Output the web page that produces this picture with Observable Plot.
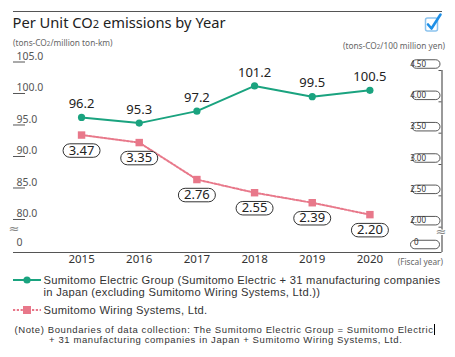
<!DOCTYPE html>
<html>
<head>
<meta charset="utf-8">
<script src="https://cdn.jsdelivr.net/npm/d3@7"></script>
<script src="https://cdn.jsdelivr.net/npm/@observablehq/plot@0.6"></script>
<style>
  html, body { margin: 0; padding: 0; background: #fff; }
  body { width: 455px; height: 357px; overflow: hidden; font-family: "Noto Sans", "DejaVu Sans", sans-serif; color: #333; }
  #wrap { position: relative; width: 455px; height: 357px; }
  .abs { position: absolute; white-space: nowrap; }
  #chart { position: absolute; left: 0; top: 0; }
  #chart svg { overflow: visible; }
  .sub2 { font-size: 75%; }
  .lib { font-family: "Liberation Sans", Arial, sans-serif; }
</style>
</head>
<body>
<div id="wrap">
  <div id="chart"></div>
  <div class="abs" style="left:13px; top:10.5px; width:429px; height:0; border-top:1.2px solid #555;"></div>
  <div class="abs" style="left:12.5px; top:12px; font-size:14.7px; line-height:20px; color:#222;">Per Unit CO<span class="sub2">2</span> emissions by Year</div>
  <svg class="abs" style="left:424px; top:12px;" width="20" height="22" viewBox="0 0 20 22">
    <rect x="1.5" y="6" width="12" height="13" rx="2" fill="none" stroke="#8cc3ee" stroke-width="1.5"/>
    <path d="M4 12.5 L7.5 16.5 L16.5 2.5" fill="none" stroke="#1e8fe6" stroke-width="2.6" stroke-linecap="round" stroke-linejoin="round"/>
  </svg>
  <div class="abs" style="left:13px; top:38px; font-size:8.3px; line-height:10px; color:#666;">(tons-CO<span class="sub2">2</span>/million ton-km)</div>
  <div class="abs" style="right:10px; top:41px; font-size:8.3px; line-height:10px; color:#666;">(tons-CO<span class="sub2">2</span>/100 million yen)</div>
  <div class="abs" style="right:12px; top:257px; font-size:8.3px; line-height:10px; color:#666;">(Fiscal year)</div>

  <svg class="abs" style="left:13px; top:274px;" width="29" height="12">
    <line x1="0" y1="6" x2="28" y2="6" stroke="#1aa37f" stroke-width="2"/>
    <circle cx="14" cy="6" r="3.6" fill="#1aa37f"/>
  </svg>
  <div class="abs lib" style="left:43.5px; top:273.5px; font-size:11.2px; line-height:12.7px; letter-spacing:0.27px; color:#333;">Sumitomo Electric Group (Sumitomo Electric + 31 manufacturing companies</div>
  <div class="abs lib" style="left:43.5px; top:286.2px; font-size:11.2px; line-height:12.7px; letter-spacing:0.27px; color:#333;">in Japan (excluding Sumitomo Wiring Systems, Ltd.))</div>
  <svg class="abs" style="left:13px; top:304px;" width="29" height="12">
    <line x1="0" y1="6" x2="28" y2="6" stroke="#e8788a" stroke-width="2" stroke-dasharray="2.2,1.6"/>
    <rect x="10" y="2" width="8" height="8" fill="#e8788a"/>
  </svg>
  <div class="abs lib" style="left:43.5px; top:303.5px; font-size:11.2px; line-height:12.7px; letter-spacing:0.27px; color:#333;">Sumitomo Wiring Systems, Ltd.</div>
  <div class="abs lib" style="left:14.5px; top:324px; font-size:9.5px; line-height:10.7px; letter-spacing:0.6px; color:#333;">(Note) Boundaries of data collection: The Sumitomo Electric Group = Sumitomo Electric<span style="display:inline-block; width:1px; height:11px; background:#000; vertical-align:-2px;"></span></div>
  <div class="abs lib" style="left:49px; top:334.7px; font-size:9.5px; line-height:10.7px; letter-spacing:0.6px; color:#333;">+ 31 manufacturing companies in Japan + Sumitomo Wiring Systems, Ltd.</div>
</div>
<script>
// ---- data ----
const years = [2015, 2016, 2017, 2018, 2019, 2020];
const groupValues = [96.2, 95.3, 97.2, 101.2, 99.5, 100.5];      // left axis, tons-CO2/million ton-km
const wiringValues = [3.47, 3.35, 2.76, 2.55, 2.39, 2.20];       // right axis, tons-CO2/100 million yen
const leftTicks = [80, 85, 90, 95, 100, 105];
const rightTicks = [2.0, 2.5, 3.0, 3.5, 4.0, 4.5];

// ---- scale settings ----
const xDomain = [2013.82, 2021.25];
const yDomain = [74.76, 105];              // bottom = broken-axis baseline
const rightFrom = [2.0, 4.5];              // right-axis values ...
const rightTo = [78.78, 103.65];           // ... expressed on the left-axis scale
const toLeft = v => rightTo[0] + (v - rightFrom[0]) * (rightTo[1] - rightTo[0]) / (rightFrom[1] - rightFrom[0]);

const W = 455, H = 275, mL = 13, mR = 13.5, mT = 61.5, mB = 23;
const frameW = W - mL - mR;
const green = "#1aa37f", pink = "#e8788a";
const font = "'Noto Sans', 'DejaVu Sans', sans-serif";

const groupData = years.map((year, i) => ({year, value: groupValues[i]}));
const wiringData = years.map((year, i) => ({year, value: wiringValues[i]}));

function pill(w, h) {
  return {
    draw(ctx) {
      const r = h / 2, x0 = -w / 2 + r, x1 = w / 2 - r;
      ctx.moveTo(x0, -r);
      ctx.lineTo(x1, -r);
      ctx.arc(x1, 0, r, -Math.PI / 2, Math.PI / 2);
      ctx.lineTo(x0, r);
      ctx.arc(x0, 0, r, Math.PI / 2, 3 * Math.PI / 2);
      ctx.closePath();
    }
  };
}

const chart = Plot.plot({
  width: W, height: H,
  marginLeft: mL, marginRight: mR, marginTop: mT, marginBottom: mB,
  x: {type: "linear", domain: xDomain, axis: null},
  y: {type: "linear", domain: yDomain, axis: null},
  style: {fontFamily: font, background: "transparent", color: "#333", overflow: "visible"},
  marks: [
    // axes lines
    Plot.ruleY([yDomain[0]], {stroke: "#555", strokeWidth: 1.2}),
    Plot.ruleX([xDomain[1]], {y1: toLeft(rightFrom[1]), y2: yDomain[0], stroke: "#555", strokeWidth: 1.2}),
    // left axis
    Plot.tickY(leftTicks, {y: d => d, insetRight: frameW - 12, stroke: "#555", strokeWidth: 1}),
    Plot.text(leftTicks, {y: d => d, text: d => d.toFixed(1), frameAnchor: "left", textAnchor: "start", dx: 3, dy: -5.5, fontSize: 10.5, fill: "#555"}),
    Plot.text(["0"], {frameAnchor: "bottom-left", textAnchor: "start", dx: 3, dy: -7, fontSize: 10.5, fill: "#555"}),
    Plot.text(["≈"], {frameAnchor: "bottom-left", textAnchor: "start", dx: -5, dy: -20, fontSize: 13, fill: "#888"}),
    // right axis
    Plot.tickY(rightTicks, {y: d => toLeft(d), insetLeft: frameW - 3, stroke: "#555", strokeWidth: 1}),
    Plot.dot(rightTicks, {y: d => toLeft(d), frameAnchor: "right", dx: -16, dy: -6.5, symbol: pill(28, 8.5), r: 5, fill: "white", stroke: "#444", strokeWidth: 0.9}),
    Plot.text(rightTicks, {y: d => toLeft(d), text: d => d.toFixed(2), frameAnchor: "right", dx: -16, dy: -6.5, fontSize: 8, fill: "#333"}),
    Plot.dot(["0"], {frameAnchor: "bottom-right", dx: -17, dy: -8, symbol: pill(29, 8.5), r: 5, fill: "white", stroke: "#444", strokeWidth: 0.9}),
    Plot.text(["0"], {frameAnchor: "bottom-right", textAnchor: "start", dx: -28, dy: -8, fontSize: 8, fill: "#333"}),
    Plot.text(["≈"], {frameAnchor: "bottom-right", textAnchor: "middle", dx: -1, dy: -17, fontSize: 13, fill: "#888", stroke: "white", strokeWidth: 2}),
    // x axis labels
    Plot.text(years, {x: d => d, text: d => String(d), frameAnchor: "bottom", dy: 10, fontSize: 11.5, fill: "#333"}),
    // Sumitomo Wiring Systems (right axis)
    Plot.line(wiringData, {x: "year", y: d => toLeft(d.value), stroke: pink, strokeWidth: 2, strokeDasharray: "2.2,1.6"}),
    Plot.dot(wiringData, {x: "year", y: d => toLeft(d.value), symbol: "square", r: 4.2, fill: pink}),
    Plot.dot(wiringData, {x: "year", y: d => toLeft(d.value), dy: 15.5, symbol: pill(37, 13.5), r: 5, fill: "white", stroke: "#333", strokeWidth: 1}),
    Plot.text(wiringData, {x: "year", y: d => toLeft(d.value), dy: 15.5, text: d => d.value.toFixed(2), fontSize: 13, fill: "#222"}),
    // Sumitomo Electric Group (left axis)
    Plot.line(groupData, {x: "year", y: "value", stroke: green, strokeWidth: 2}),
    Plot.dot(groupData, {x: "year", y: "value", r: 3.6, fill: green}),
    Plot.text(groupData, {x: "year", y: "value", dy: -13.5, text: d => d.value.toFixed(1), fontSize: 13, fill: "#222"})
  ]
});
document.getElementById("chart").appendChild(chart);
</script>
</body>
</html>
